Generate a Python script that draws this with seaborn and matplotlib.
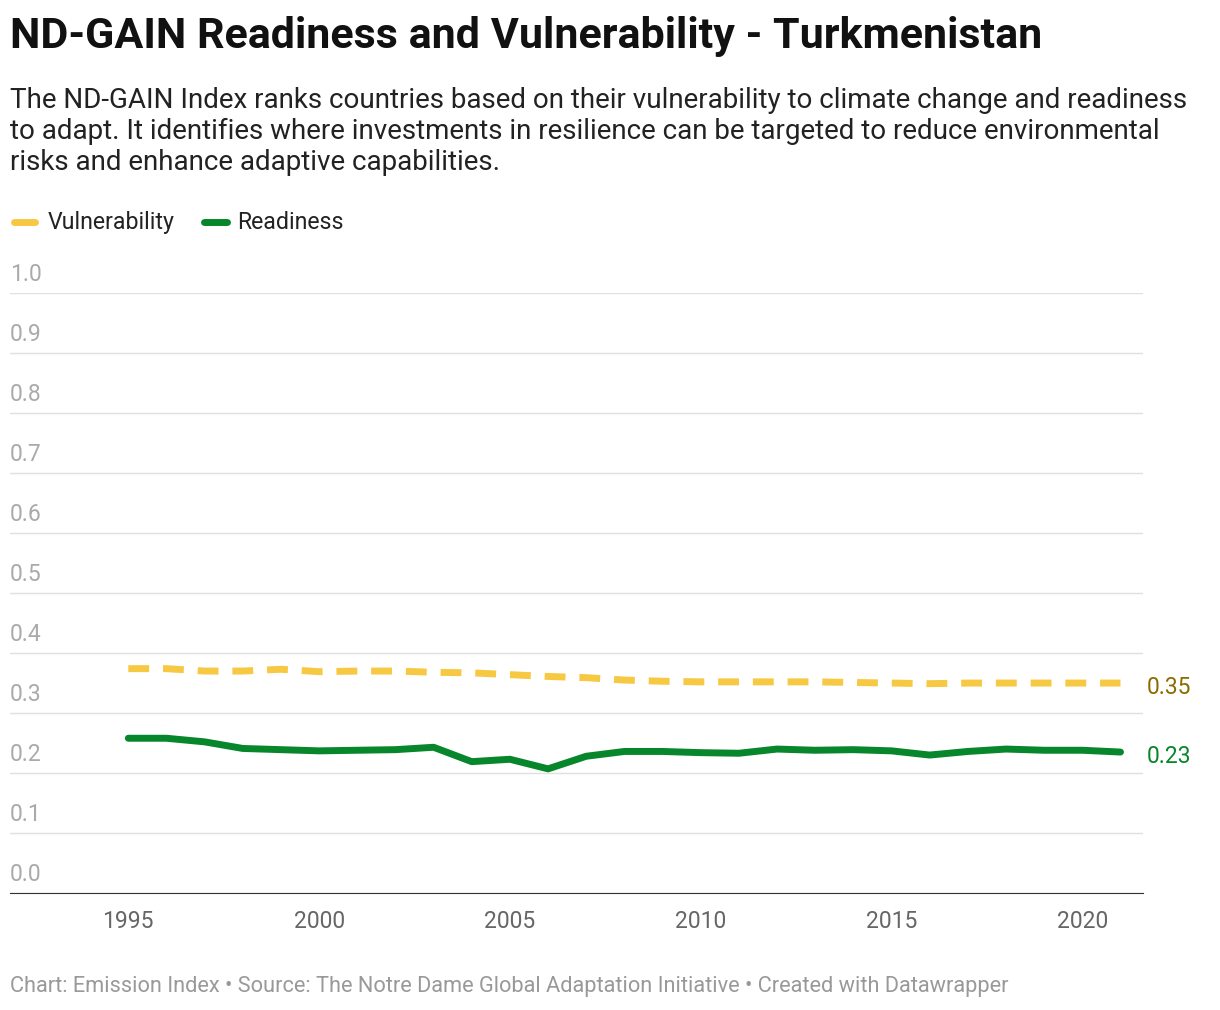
import matplotlib.pyplot as plt
import seaborn as sns
import pandas as pd

years = list(range(1995, 2022))
vulnerability = [0.374, 0.374, 0.370, 0.370, 0.373, 0.369, 0.370, 0.370, 0.368, 0.367,
                 0.364, 0.361, 0.359, 0.355, 0.353, 0.352, 0.352, 0.352, 0.352, 0.351,
                 0.350, 0.349, 0.350, 0.350, 0.350, 0.350, 0.350]
readiness = [0.258, 0.258, 0.252, 0.241, 0.239, 0.237, 0.238, 0.239, 0.243, 0.219,
             0.223, 0.207, 0.228, 0.236, 0.236, 0.234, 0.233, 0.240, 0.238, 0.239,
             0.237, 0.230, 0.236, 0.240, 0.238, 0.238, 0.235]
y_ticks = [0.0, 0.1, 0.2, 0.3, 0.4, 0.5, 0.6, 0.7, 0.8, 0.9, 1.0]
x_ticks = [1995, 2000, 2005, 2010, 2015, 2020]

YELLOW = '#f7c841'
GREEN = '#07862b'

sns.set_style('white')
plt.rcParams['font.family'] = ['Roboto', 'DejaVu Sans']

df = pd.DataFrame({'year': years, 'Vulnerability': vulnerability, 'Readiness': readiness})

fig = plt.figure(figsize=(12.2, 10.1), dpi=100)
ax = fig.add_axes([0.0082, 0.1158, 0.929, 0.594])

sns.lineplot(data=df, x='year', y='Vulnerability', ax=ax, color=YELLOW, lw=5,
             linestyle=(0, (3, 2)))
sns.lineplot(data=df, x='year', y='Readiness', ax=ax, color=GREEN, lw=5)

ax.set_xlim(1991.9, 2021.6)
ax.set_ylim(0, 1.0)
ax.set_yticks(y_ticks)
ax.set_yticklabels([])
ax.tick_params(axis='y', length=0)
ax.grid(axis='y', color='#e0e0e0', lw=1)
ax.set_xticks(x_ticks)
ax.set_xticklabels([str(x) for x in x_ticks], fontsize=16.5, color='#666666')
ax.tick_params(axis='x', length=0, pad=12)
ax.set_xlabel('')
ax.set_ylabel('')
for s in ['top', 'right', 'left']:
    ax.spines[s].set_visible(False)
ax.spines['bottom'].set_color('#333333')

for v in y_ticks:
    ax.text(1991.9, v + 0.012, f'{v:.1f}', fontsize=16.5, color='#aaaaaa', va='bottom', ha='left')

ax.text(2021.7, vulnerability[-1] - 0.007, f'{vulnerability[-1]:.2f}', fontsize=16.5,
        color='#8c6c00', va='center', clip_on=False)
ax.text(2021.7, readiness[-1] - 0.007, f'{readiness[-1]:.2f}', fontsize=16.5,
        color=GREEN, va='center', clip_on=False)

fig.text(0.0082, 0.964, 'ND-GAIN Readiness and Vulnerability - Turkmenistan',
         fontsize=31, fontweight='bold', va='center', color='#111111')
fig.text(0.0082, 0.870,
         'The ND-GAIN Index ranks countries based on their vulnerability to climate change and readiness\n'
         'to adapt. It identifies where investments in resilience can be targeted to reduce environmental\n'
         'risks and enhance adaptive capabilities.',
         fontsize=20, color='#222222', va='center', linespacing=1.2)

fig.lines.append(plt.Line2D([0.0115, 0.029], [0.780, 0.780], transform=fig.transFigure,
                            color=YELLOW, lw=5, solid_capstyle='round'))
fig.text(0.039, 0.780, 'Vulnerability', fontsize=16.7, va='center', color='#222222')
fig.lines.append(plt.Line2D([0.167, 0.186], [0.780, 0.780], transform=fig.transFigure,
                            color=GREEN, lw=5, solid_capstyle='round'))
fig.text(0.194, 0.780, 'Readiness', fontsize=16.7, va='center', color='#222222')

fig.text(0.0082, 0.023,
         'Chart: Emission Index • Source: The Notre Dame Global Adaptation Initiative • Created with Datawrapper',
         fontsize=15.7, color='#999999', va='center')

fig.savefig('out.png', dpi=100)
